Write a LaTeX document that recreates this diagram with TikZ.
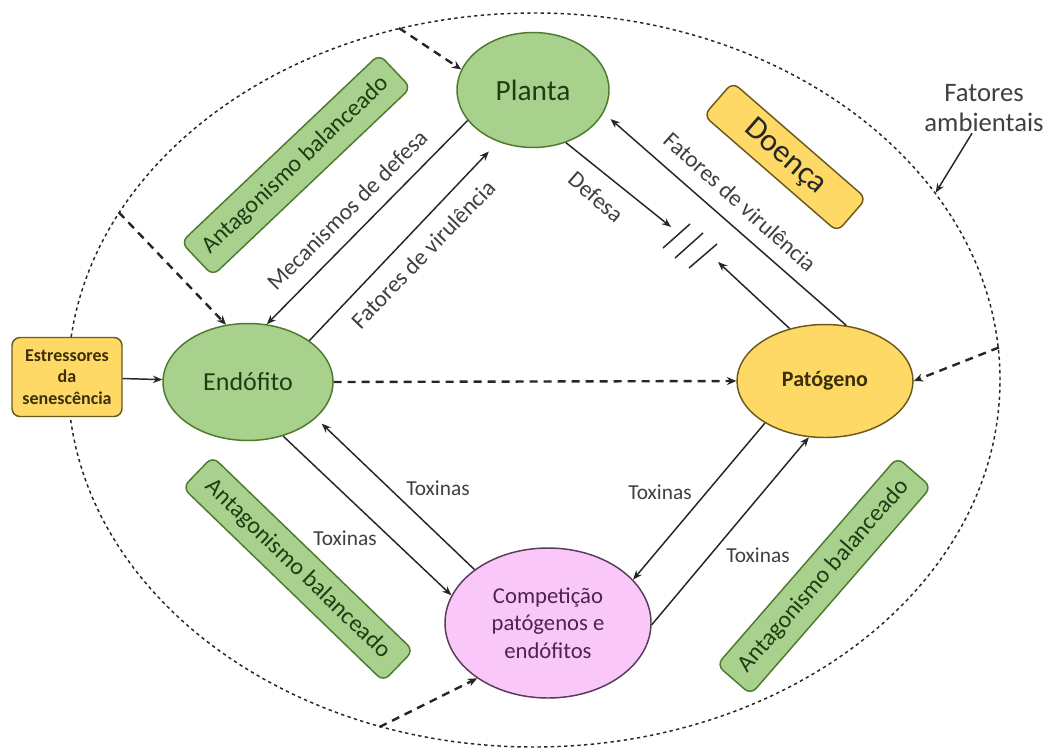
\documentclass[tikz,border=0pt]{standalone}
\usepackage{fontspec}
\setmainfont{Carlito}
\usetikzlibrary{shapes.geometric,arrows.meta,calc}
\definecolor{gfill}{HTML}{A9D18E}
\definecolor{gdraw}{HTML}{4E7A30}
\definecolor{gtext}{HTML}{1E3D12}
\definecolor{yfill}{HTML}{FFD966}
\definecolor{ydraw}{HTML}{6B5A1E}
\definecolor{ytext}{HTML}{3B2F0A}
\definecolor{pfill}{HTML}{F9C8F8}
\definecolor{pdraw}{HTML}{5A3A5A}
\definecolor{ptext}{HTML}{4F2350}
\definecolor{lcol}{HTML}{262626}
\definecolor{tcol}{HTML}{404040}
\begin{document}
\begin{tikzpicture}[x=0.75pt,y=-0.75pt,
  gnode/.style={draw=gdraw, fill=gfill, line width=1.1pt, text=gtext, inner sep=0pt, align=center},
  ynode/.style={draw=ydraw, fill=yfill, line width=1.1pt, text=ytext, inner sep=0pt, align=center},
  pnode/.style={draw=pdraw, fill=pfill, line width=1.1pt, text=ptext, inner sep=0pt, align=center},
  gbox/.style={gnode, rectangle, rounded corners=6pt, font=\fontsize{18}{21}\selectfont},
  lab/.style={text=tcol, inner sep=1pt, font=\fontsize{17.5}{21}\selectfont},
  tox/.style={text=tcol, inner sep=1pt, font=\fontsize{16}{19}\selectfont},
  conn/.style={draw=lcol, line width=1.1pt, -{Stealth[length=7pt,width=5.5pt]}},
  dconn/.style={draw=lcol, line width=1.8pt, dash pattern=on 6pt off 4.5pt, -{Stealth[length=7pt,width=6pt]}}
]
\useasboundingbox (0,0) rectangle (1048,753);
\fill[white] (0,0) rectangle (1048,753);

% environment ellipse
\node[draw=lcol, line width=1.1pt, dash pattern=on 2.5pt off 2.5pt, ellipse, inner sep=0pt,
      minimum width=699pt, minimum height=550.5pt] (env) at (534,380) {};

% main nodes
\node[gnode, ellipse, minimum width=114pt, minimum height=86.25pt, font=\fontsize{22}{26}\selectfont] (planta) at (533,90) {Planta};
\node[gnode, ellipse, minimum width=127.5pt, minimum height=87.75pt, font=\fontsize{19.5}{23}\selectfont] (endo) at (248,382) {Endófito};
\node[ynode, ellipse, minimum width=132pt, minimum height=84.75pt, font=\bfseries\fontsize{16.5}{20}\selectfont] (pato) at (825,381) {Patógeno};
\node[pnode, ellipse, minimum width=154.5pt, minimum height=112.5pt, font=\fontsize{17}{20.6}\selectfont] (comp) at (548,623) {Competição\\patógenos e\\endófitos};
\node[ynode, rectangle, rounded corners=6pt, minimum width=82.5pt, minimum height=59.25pt, font=\bfseries\fontsize{13.5}{16}\selectfont] (estr) at (67,377) {Estressores\\da\\senescência};

% boxes
\node[gbox, rotate=43.5, minimum width=204.75pt, minimum height=34.5pt] (ant1) at (296,165) {Antagonismo balanceado};
\node[gbox, rotate=-44, minimum width=209.25pt, minimum height=32.25pt] (ant2) at (298,569) {Antagonismo balanceado};
\node[gbox, rotate=49, minimum width=206.25pt, minimum height=33.75pt] (ant3) at (824,576) {Antagonismo balanceado};
\node[ynode, rectangle, rounded corners=6pt, rotate=-41, minimum width=132.75pt, minimum height=33pt, text=black!85, font=\fontsize{24}{28}\selectfont] (doenca) at (785,157) {Doença};

% labels
\node[lab, rotate=45] (lmec) at (347,210) {Mecanismos de defesa};
\node[lab, rotate=46] (lfv1) at (423,254) {Fatores de virulência};
\node[lab, rotate=-41] (ldef) at (596,197) {Defesa};
\node[lab, rotate=-42] (lfv2) at (740,202) {Fatores de virulência};
\node[tox] (lt1) at (438,488) {Toxinas};
\node[tox] (lt2) at (345,538) {Toxinas};
\node[tox] (lt3) at (660,492) {Toxinas};
\node[tox] (lt4) at (758,555) {Toxinas};
\node[text=tcol, align=center, inner sep=1pt, font=\fontsize{20}{22.5}\selectfont] (famb) at (984,108) {Fatores\\ambientais};

% blocking mark
\draw[lcol, line width=1.1pt] (663,248)--(690,224) (675,258)--(703,233) (689,268)--(717,244);
\coordinate (blkA) at (671,227);
\coordinate (blkB) at (718,262);

% solid connectors
\draw[conn] (planta.205) -- (endo.72);
\draw[conn, shorten >=10pt] (endo.34) -- (planta.236);
\draw[conn] (planta.302) -- (blkA);
\draw[conn] (pato.124) -- (blkB);
\draw[conn, shorten >=7pt] (pato.69) -- (planta.342);
\draw[conn] (estr) -- (endo);
\draw[conn, shorten >=6pt] (comp.144) -- (endo.332);
\draw[conn] (endo.303) -- (comp.164);
\draw[conn] (pato.215) -- (comp.27);
\draw[conn] (comp.359) -- (pato.254);
\draw[conn] ($(famb.south)+(-12,0)$) -- (env.25);

% dashed connectors
\draw[dconn] (endo.east) -- (pato.west);
\draw[dconn] (env.111) -- (planta.164);
\draw[dconn] (env.158) -- (endo.111);
\draw[dconn] (env.4) -- (pato.east);
\draw[dconn] (env.246) -- (comp.218);
\end{tikzpicture}
\end{document}
